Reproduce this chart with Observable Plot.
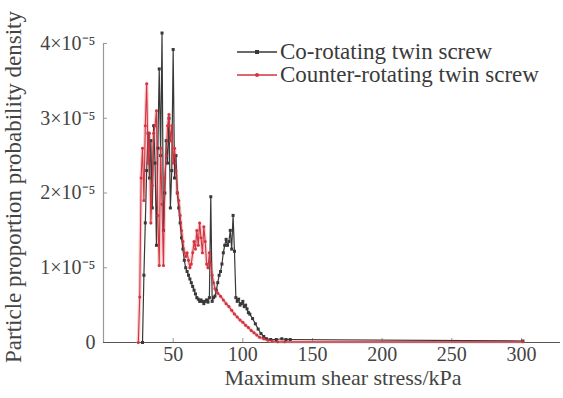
<!DOCTYPE html>
<html>
<head>
<meta charset="utf-8">
<script src="https://cdn.jsdelivr.net/npm/d3@7"></script>
<script src="https://cdn.jsdelivr.net/npm/@observablehq/plot@0.6"></script>
<style>
  html, body { margin: 0; padding: 0; background: #fff; }
  #wrap { position: relative; width: 563px; height: 398px; overflow: hidden; }
  #wrap svg text { font-family: "Liberation Serif", serif !important; }
  #legend { position: absolute; left: 237px; top: 40px; font-family: "Liberation Serif", serif; font-size: 23px; color: #3a3a3a; line-height: 23px; }
  #legend div { display: flex; align-items: center; white-space: nowrap; }
  #legend svg { margin-right: 3px; }
</style>
</head>
<body>
<div id="wrap"></div>
<script>
// Co-rotating twin screw: shear stress (kPa) and probability density (×1e-5)
const coX = [28,29,30,31,32,33,34,35,36,37,38,39,40,41,42,43,44,45,46,47,48,49,50,51,52,53,54,55,56,57,58,59,60,61,62,63,64,65,66,67,68,69,70,71,72,73,74,75,76,77,78,79,80,81,82,83,84,85,86,87,88,89,90,91,92,93,94,95,96,97,98,99,100,101,102,103,104,105,107,109,111,113,115,117,120,124,128,131,134,301];
const coY = [0,0.9,1.6,2.3,2.8,2.2,2.7,1.8,2.9,2.4,1.3,2.6,3.66,2.5,4.14,1.5,2.0,2.7,2.4,3.0,1.8,2.3,3.92,2.2,2.5,2.0,1.8,1.6,1.4,1.25,1.1,1.0,0.95,0.9,0.85,0.8,0.75,0.7,0.65,0.6,0.58,0.55,0.57,0.55,0.52,0.55,0.57,0.54,0.6,1.95,0.55,0.6,0.62,0.7,0.8,0.9,0.95,1.05,1.2,1.3,1.38,1.3,1.35,1.5,1.25,1.7,1.22,0.6,0.55,0.58,0.5,0.52,0.55,0.48,0.5,0.45,0.4,0.38,0.32,0.25,0.18,0.12,0.08,0.05,0.04,0.04,0.05,0.04,0.04,0.02];
// Counter-rotating twin screw
const ctX = [25,26,27,28,29,30,31,32,33,34,35,36,37,38,39,40,41,42,43,44,45,46,47,48,49,50,51,52,53,54,55,56,57,58,59,60,61,62,63,64,65,66,67,68,69,70,71,72,73,74,75,76,77,78,79,80,82,84,86,88,90,92,94,96,98,100,102,104,106,108,110,112,115,118,121,125,130,301];
const ctY = [0,0.61,2.2,2.6,1.9,2.9,3.46,2.4,2.8,1.6,2.1,2.8,2.9,3.1,1.7,1.03,2.6,1.85,1.03,2.2,2.5,2.9,3.05,2.7,2.9,2.4,2.6,2.3,2.0,1.9,1.7,1.5,1.35,1.2,1.15,1.2,1.1,1.0,1.05,1.2,1.35,1.25,1.5,1.3,1.6,1.4,1.2,1.55,1.35,1.05,1.0,1.2,1.05,0.9,0.8,0.72,0.66,0.62,0.57,0.52,0.48,0.43,0.38,0.34,0.3,0.27,0.23,0.2,0.16,0.13,0.1,0.07,0.05,0.03,0.02,0.01,0.01,0.01];
const yTicks = [0, 1e-5, 2e-5, 3e-5, 4e-5];
const yTickLabels = ["0", "1×10⁻⁵", "2×10⁻⁵", "3×10⁻⁵", "4×10⁻⁵"];
const xTicks = [50, 100, 150, 200, 250, 300];
const seriesNames = ["Co-rotating twin screw", "Counter-rotating twin screw"];
const yTitle = "Particle proportion probability density";
const xTitle = "Maximum shear stress/kPa";

const co = coX.map((x, i) => ({x, y: coY[i] * 1e-5}));
const ct = ctX.map((x, i) => ({x, y: ctY[i] * 1e-5}));
const black = "#383838", red = "#d3343f";
const font = "Liberation Serif, serif";

const chart = Plot.plot({
  width: 563, height: 398,
  marginLeft: 103, marginRight: 3, marginTop: 43, marginBottom: 56,
  style: {fontFamily: font, fontSize: "20px", color: "#444", background: "#fff"},
  x: {domain: [0, 328]},
  y: {domain: [0, 4e-5]},
  marks: [
    Plot.axisY({ticks: yTicks, tickFormat: (d) => yTickLabels[yTicks.indexOf(d)], tickSize: -4, tickPadding: 12, label: null, fontSize: 20, fontFamily: font, stroke: "#999"}),
    Plot.axisX({ticks: xTicks, tickSize: -4, tickPadding: 8, label: null, fontSize: 20, fontFamily: font, stroke: "#999"}),
    Plot.ruleX([0], {y1: 0, y2: 4e-5, stroke: "#999", strokeWidth: 1.2}),
    Plot.ruleY([0], {stroke: "#555", strokeWidth: 1.2}),
    // soft halo for the red series
    Plot.line(ct, {x: "x", y: "y", stroke: "#f2a0a8", strokeWidth: 3.5, strokeOpacity: 0.5}),
    Plot.line(co, {x: "x", y: "y", stroke: black, strokeWidth: 1.2}),
    Plot.dot(co, {x: "x", y: "y", symbol: "square", r: 1.7, fill: black}),
    Plot.line(ct, {x: "x", y: "y", stroke: red, strokeWidth: 1.1}),
    Plot.dot(ct, {x: "x", y: "y", r: 1.5, fill: red}),
    Plot.text([xTitle], {frameAnchor: "bottom", dy: 42, dx: 11, fontSize: 22, fontFamily: font, fill: "#444"}),
    Plot.text([yTitle], {frameAnchor: "left", textAnchor: "middle", dx: -90, dy: -6, rotate: -90, fontSize: 23, fontFamily: font, fill: "#444"})
  ]
});
const wrap = document.getElementById("wrap");
wrap.appendChild(chart);

const legend = document.createElement("div");
legend.id = "legend";
const colors = [black, red];
seriesNames.forEach((name, i) => {
  const row = document.createElement("div");
  row.innerHTML = `<svg width="40" height="10"><line x1="0" y1="5" x2="40" y2="5" stroke="${colors[i]}" stroke-width="1.3"/>` +
    (i === 0 ? `<rect x="18" y="3" width="4" height="4" fill="${colors[i]}"/>` : `<circle cx="20" cy="5" r="2" fill="${colors[i]}"/>`) +
    `</svg><span>${name}</span>`;
  legend.appendChild(row);
});
wrap.appendChild(legend);
</script>
</body>
</html>
